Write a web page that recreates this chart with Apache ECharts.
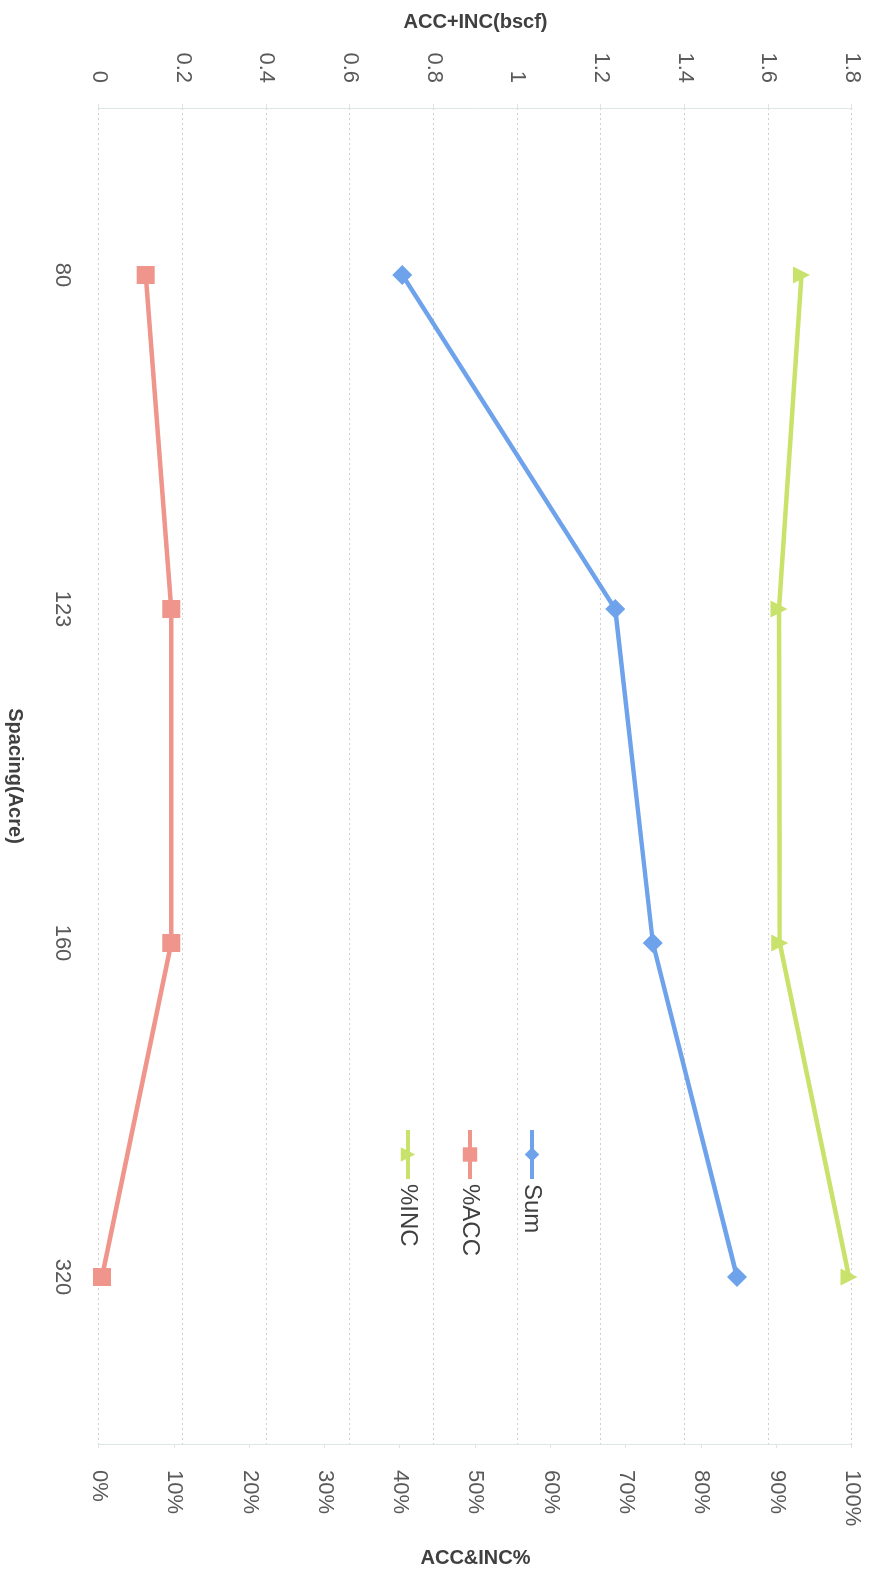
<!DOCTYPE html>
<html>
<head>
<meta charset="utf-8">
<script src="https://cdn.jsdelivr.net/npm/echarts@6/dist/echarts.min.js"></script>
<style>
  html, body { margin: 0; padding: 0; background: #ffffff; overflow: hidden; width: 871px; height: 1580px; }
  #chart { position: absolute; left: 0; top: 0; width: 1580px; height: 871px;
           transform-origin: 0 0; transform: translateX(871px) rotate(90deg); }
</style>
</head>
<body>
<div id="chart"></div>
<script>
// Data (chart is drawn landscape, then the page rotates it 90° clockwise like the reference)
const categories = ['80', '123', '160', '320'];
const sumValues = [0.725, 1.234, 1.324, 1.525];      // ACC+INC (bscf)
const accPercent = [6.2, 9.6, 9.6, 0.4];              // %ACC
const incPercent = [93.3, 90.3, 90.4, 99.6];          // %INC
const leftTicks = { min: 0, max: 1.8, interval: 0.2 };
const rightTicks = { min: 0, max: 100, interval: 10 };

const FONT = 'Liberation Sans';
const chart = echarts.init(document.getElementById('chart'), null, { renderer: 'canvas' });

chart.setOption({
  backgroundColor: '#ffffff',
  animation: false,
  textStyle: { fontFamily: FONT },
  grid: { left: 108, right: 136, top: 19, bottom: 99, containLabel: false },
  legend: {
    orient: 'vertical',
    left: 1123,
    top: 321,
    itemWidth: 49,
    itemHeight: 18,
    itemGap: 36,
    lineStyle: { width: 4 },
    textStyle: { fontFamily: FONT, fontSize: 24, color: '#404040', lineHeight: 26 },
    data: ['Sum', '%ACC', '%INC']
  },
  xAxis: {
    type: 'category',
    data: categories,
    boundaryGap: true,
    name: 'Spacing(Acre)',
    nameLocation: 'middle',
    nameGap: 74,
    nameTextStyle: { fontFamily: FONT, fontSize: 20, fontWeight: 'bold', color: '#404040' },
    axisLine: { show: false },
    axisTick: { show: false },
    axisLabel: { margin: 26, fontSize: 22, color: '#595959', fontFamily: FONT },
    splitLine: { show: false }
  },
  yAxis: [
    {
      type: 'value',
      position: 'left',
      min: leftTicks.min, max: leftTicks.max, interval: leftTicks.interval,
      name: 'ACC+INC(bscf)',
      nameLocation: 'middle',
      nameRotate: 90,
      nameGap: 76,
      nameTextStyle: { fontFamily: FONT, fontSize: 20, fontWeight: 'bold', color: '#404040' },
      axisLine: { show: true, lineStyle: { color: '#dce8e6', width: 1 } },
      axisTick: { show: true, length: 4, lineStyle: { color: '#e2e2e2' } },
      axisLabel: { margin: 25, fontSize: 22, color: '#595959', fontFamily: FONT },
      splitLine: { show: true, lineStyle: { color: '#cfcfcf', width: 1, type: [2, 3] } }
    },
    {
      type: 'value',
      position: 'right',
      min: rightTicks.min, max: rightTicks.max, interval: rightTicks.interval,
      name: 'ACC&INC%',
      nameLocation: 'middle',
      nameRotate: 90,
      nameGap: 104,
      nameTextStyle: { fontFamily: FONT, fontSize: 20, fontWeight: 'bold', color: '#404040' },
      axisLine: { show: true, lineStyle: { color: '#dce8e6', width: 1 } },
      axisTick: { show: true, length: 4, lineStyle: { color: '#e2e2e2' } },
      axisLabel: { margin: 26, fontSize: 22, color: '#595959', fontFamily: FONT, formatter: '{value}%' },
      splitLine: { show: false }
    }
  ],
  series: [
    {
      name: 'Sum', type: 'line', yAxisIndex: 0, data: sumValues,
      symbol: 'diamond', symbolSize: 20,
      lineStyle: { color: '#6ea3ec', width: 4.5 },
      itemStyle: { color: '#6ea3ec' }
    },
    {
      name: '%ACC', type: 'line', yAxisIndex: 1, data: accPercent,
      symbol: 'rect', symbolSize: 18,
      lineStyle: { color: '#f0958c', width: 4.5 },
      itemStyle: { color: '#f0958c' }
    },
    {
      name: '%INC', type: 'line', yAxisIndex: 1, data: incPercent,
      symbol: 'triangle', symbolSize: 17,
      lineStyle: { color: '#c9e26b', width: 4.5 },
      itemStyle: { color: '#c9e26b' }
    }
  ]
});
</script>
</body>
</html>
